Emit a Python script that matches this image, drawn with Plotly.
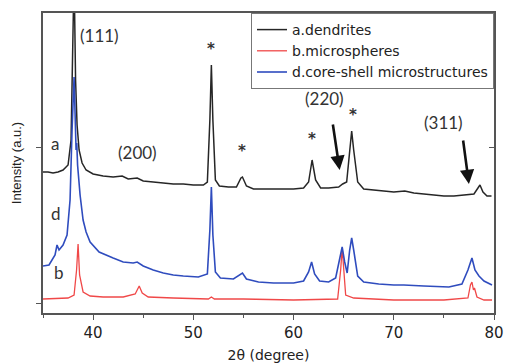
import plotly.graph_objects as go

# ---- data (2theta in degrees, intensity in arbitrary units) ----
a_x = [35.0, 35.5, 36.0, 36.5, 37.0, 37.5, 37.8, 38.0, 38.1, 38.25, 38.4, 38.6, 38.9, 39.3,
       40.0, 41.0, 42.0, 42.9, 43.5, 44.4, 45.0, 46.0, 47.0, 48.0, 49.0, 50.0, 51.0, 51.4,
       51.65, 51.8, 51.95, 52.2, 52.6, 53.5, 54.3, 54.75, 54.9, 55.3, 56.0, 57.0, 58.0, 59.0,
       60.0, 61.0, 61.5, 61.85, 62.2, 62.7, 63.5, 64.5, 64.9, 65.3, 65.6, 65.8, 66.0, 66.4,
       67.0, 68.0, 69.0, 70.0, 71.1, 72.0, 73.0, 74.0, 75.0, 76.0, 77.0, 78.0, 78.4, 78.6,
       78.9, 79.3, 79.75]
a_y = [131, 131, 130, 131, 133, 138, 163, 243, 330, 223, 178, 153, 140, 133,
       129, 127, 126, 127, 124, 125, 122, 121, 120, 119, 119, 118, 118, 121,
       183, 238, 183, 123, 117, 116, 116, 125, 126, 117, 114, 114, 114, 114,
       114, 115, 121, 143, 123, 115, 115, 116, 119, 121, 153, 172, 153, 121,
       114, 113, 112, 111, 112, 110, 109, 108, 107, 107, 108, 109, 115, 118,
       111, 107, 107]

d_x = [35.0, 35.6, 36.2, 36.4, 36.6, 37.0, 37.4, 37.7, 37.9, 38.1, 38.3, 38.37, 38.45, 38.7,
       39.0, 39.3, 39.7, 40.6, 42.0, 43.0, 44.0, 44.4, 45.0, 46.0, 47.0, 48.0, 49.0, 50.5,
       51.4, 51.65, 51.8, 51.95, 52.2, 52.7, 54.0, 54.7, 54.9, 55.3, 56.5, 58.0, 60.0, 61.0,
       61.5, 61.8, 62.1, 62.6, 63.5, 64.2, 64.6, 64.85, 65.1, 65.35, 65.6, 65.8, 66.0, 66.4,
       67.0, 68.5, 70.0, 71.0, 73.0, 75.5, 76.8, 77.4, 77.8, 78.1, 78.5, 79.0, 79.8]
d_y = [37, 38, 48, 58, 53, 58, 68, 103, 173, 226, 153, 160, 138, 108,
       83, 71, 61, 51, 45, 41, 40, 41, 37, 33, 30, 28, 27, 26,
       29, 73, 116, 68, 31, 25, 24, 29, 30, 24, 21, 20, 20, 22,
       31, 41, 29, 22, 21, 25, 43, 56, 41, 30, 53, 65, 53, 27,
       21, 19, 18, 18, 17, 16, 19, 33, 45, 33, 27, 22, 18]

b_x = [35.0, 36.5, 37.5, 38.1, 38.35, 38.5, 38.65, 39.0, 39.7, 41.0, 43.0, 44.2, 44.6, 44.9,
       45.5, 48.0, 51.5, 51.8, 52.1, 55.0, 60.0, 64.4, 64.7, 64.85, 65.0, 65.2, 66.0, 70.0,
       75.0, 77.4, 77.65, 77.8, 77.95, 78.05, 78.3, 79.0, 79.8]
b_y = [4, 5, 5, 8, 33, 59, 28, 11, 7, 6, 6, 9, 17, 10,
       6, 5, 4, 6, 4, 4, 3, 4, 33, 55, 38, 8, 5, 3,
       3, 5, 18, 21, 13, 15, 6, 3, 3]

series_names = ["a.dendrites", "b.microspheres", "d.core-shell microstructures"]
x_ticks = [40, 50, 60, 70, 80]

fig = go.Figure()
fig.add_trace(go.Scatter(x=a_x, y=a_y, mode="lines", name=series_names[0],
                         line=dict(color="#262626", width=1.5)))
fig.add_trace(go.Scatter(x=b_x, y=b_y, mode="lines", name=series_names[1],
                         line=dict(color="#f04848", width=1.3)))
fig.add_trace(go.Scatter(x=d_x, y=d_y, mode="lines", name=series_names[2],
                         line=dict(color="#2f4cbe", width=1.6)))
# invisible trace to carry the right-hand y axis
fig.add_trace(go.Scatter(x=[35], y=[0], yaxis="y2", mode="markers",
                         marker=dict(opacity=0), showlegend=False, hoverinfo="skip"))

txt_font = dict(family="Lato, Carlito, sans-serif", size=17, color="#333333")
star_font = dict(family="DejaVu Sans, sans-serif", size=15, color="#333333")
labels = [("(111)", 40.6, 268), ("(200)", 44.4, 151), ("(220)", 63.1, 205), ("(311)", 75.0, 181),
          ("a", 36.15, 160), ("d", 36.25, 90), ("b", 36.55, 31)]
stars = [(51.75, 254), (54.84, 152), (61.8, 164), (65.9, 188)]
for t, x, y in labels:
    fig.add_annotation(x=x, y=y, text=t, showarrow=False, font=txt_font,
                       xanchor="center", yanchor="middle")
for x, y in stars:
    fig.add_annotation(x=x, y=y, text="<b>*</b>", showarrow=False, font=star_font,
                       xanchor="center", yanchor="middle")

arrows = [(63.9, 180, 64.6, 133), (76.9, 164, 77.5, 119)]
for x0, y0, x1, y1 in arrows:
    fig.add_annotation(x=x1, y=y1, ax=x0, ay=y0, xref="x", yref="y", axref="x", ayref="y",
                       text="", showarrow=True, arrowhead=2, arrowsize=1.1,
                       arrowwidth=2.6, arrowcolor="#111111")

axis_col = "#555555"
fig.update_layout(
    width=507, height=364,
    margin=dict(l=43, r=13, t=13, b=51),
    paper_bgcolor="white", plot_bgcolor="white",
    font=dict(family="DejaVu Sans, sans-serif", size=13, color="#222222"),
    showlegend=True,
    legend=dict(x=1, y=1, xanchor="right", yanchor="top",
                bgcolor="white", bordercolor="#777777", borderwidth=1,
                font=dict(size=14, color="#222222"),
                tracegroupgap=0, itemwidth=30),
    xaxis=dict(range=[35, 80], tickvals=x_ticks, ticks="outside", ticklen=5,
               tickwidth=1.2, tickcolor=axis_col, automargin=False,
               showline=True, linecolor=axis_col, linewidth=1.5, mirror=True,
               showgrid=False, zeroline=False,
               minor=dict(dtick=5, tick0=35, ticks="outside", ticklen=3, tickcolor=axis_col,
                          showgrid=False),
               title=dict(text="2θ (degree)", font=dict(size=14), standoff=9),
               tickfont=dict(size=15)),
    yaxis=dict(range=[-10, 290], tickvals=[0, 156], showticklabels=False,
               ticks="outside", ticklen=5, tickcolor=axis_col, automargin=False,
               showline=True, linecolor=axis_col, linewidth=1.5, mirror=True,
               showgrid=False, zeroline=False,
               title=dict(text="Intensity (a.u.)",
                          font=dict(family="Liberation Sans, Arial, sans-serif", size=13),
                          standoff=12)),
    yaxis2=dict(range=[-10, 290], overlaying="y", side="right", tickvals=[156],
                showticklabels=False, ticks="inside", ticklen=5, tickcolor=axis_col,
                showline=False, showgrid=False, zeroline=False, automargin=False),
)

fig.write_html("out.html", config={"displayModeBar": False},
               post_script="document.body.style.margin='0';")
